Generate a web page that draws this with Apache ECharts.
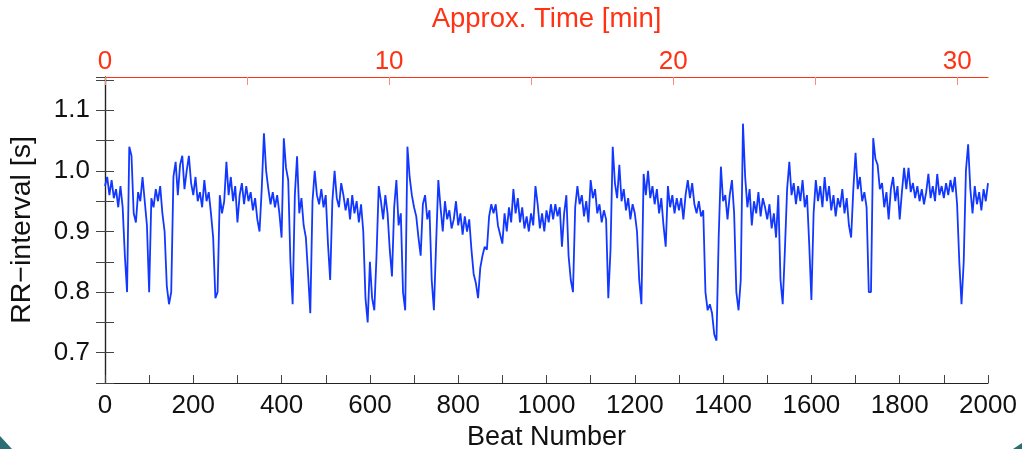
<!DOCTYPE html>
<html>
<head>
<meta charset="utf-8">
<script src="https://cdn.jsdelivr.net/npm/echarts@6/dist/echarts.min.js"></script>
<style>
html,body{margin:0;padding:0;background:#fff;}
#chart{width:1022px;height:449px;}
</style>
</head>
<body>
<div id="chart"></div>
<script>
// ---- data ----
const beatStep = 5; // one value every 5 beats, starting at beat 0
const rrBeats0to245 = [0.975,0.99,0.96,0.985,0.955,0.97,0.94,0.975,0.94,0.86,
  0.80,1.04,1.025,0.93,0.915,0.965,0.95,0.99,0.95,0.91,
  0.80,0.955,0.94,0.97,0.95,0.975,0.93,0.90,0.81,0.78,
  0.80,0.99,1.015,0.96,1.01,1.025,0.97,1.0,1.025,0.98,
  0.96,0.99,0.95,0.965,0.94,0.985,0.95,0.965,0.93,0.89];
const rrBeats250to495 = [0.79,0.80,0.96,0.93,0.95,1.015,0.96,0.99,0.95,0.975,
  0.915,0.96,0.98,0.945,0.975,0.95,0.965,0.935,0.955,0.92,
  0.90,0.97,1.062,1.0,0.97,0.945,0.965,0.94,0.96,0.93,
  0.89,1.054,1.005,0.985,0.85,0.78,0.96,1.024,0.93,0.955,
  0.91,0.89,0.83,0.765,0.95,1.0,0.96,0.945,0.97,0.94];
const rrBeats500to745 = [0.96,0.88,0.82,0.95,1.0,0.955,0.94,0.98,0.96,0.935,
  0.955,0.92,0.96,0.93,0.95,0.915,0.945,0.90,0.79,0.75,
  0.85,0.79,0.77,0.86,0.975,0.95,0.92,0.96,0.93,0.87,
  0.826,0.94,0.985,0.91,0.93,0.80,0.77,1.04,0.99,0.96,
  0.94,0.925,0.89,0.86,0.945,0.96,0.92,0.935,0.82,0.77];
const rrBeats750to995 = [0.88,0.985,0.94,0.90,0.95,0.92,0.935,0.905,0.92,0.95,
  0.91,0.93,0.895,0.925,0.90,0.92,0.87,0.83,0.815,0.79,
  0.84,0.86,0.875,0.87,0.925,0.945,0.93,0.945,0.91,0.895,
  0.88,0.93,0.90,0.94,0.915,0.97,0.93,0.955,0.915,0.94,
  0.905,0.925,0.90,0.93,0.91,0.975,0.945,0.905,0.93,0.90];
const rrBeats1000to1245 = [0.935,0.915,0.945,0.92,0.945,0.925,0.94,0.875,0.93,0.96,
  0.86,0.82,0.80,0.94,0.975,0.945,0.96,0.925,0.95,0.915,
  0.985,0.955,0.97,0.93,0.945,0.915,0.935,0.92,0.79,0.87,
  1.04,0.98,0.955,1.01,0.95,0.97,0.935,0.955,0.92,0.945,
  0.93,0.90,0.82,0.78,0.995,0.96,1.0,0.955,0.975,0.945];
const rrBeats1250to1495 = [0.97,0.93,0.955,0.91,0.875,0.975,0.94,0.96,0.93,0.955,
  0.935,0.955,0.92,0.96,0.985,0.955,0.98,0.945,0.93,0.95,
  0.925,0.935,0.80,0.77,0.78,0.765,0.73,0.72,0.89,1.007,
  0.95,0.96,0.92,0.96,0.985,0.93,0.80,0.77,0.82,1.078,
  0.99,0.94,0.97,0.91,0.95,0.93,0.965,0.925,0.955,0.94];
const rrBeats1500to1745 = [0.92,0.945,0.905,0.93,0.89,0.96,0.82,0.78,0.87,0.97,
  1.015,0.96,0.98,0.945,0.975,0.95,0.985,0.94,0.96,0.88,
  0.787,0.93,0.985,0.95,0.975,0.94,0.99,0.95,0.975,0.935,
  0.96,0.925,0.955,0.94,0.97,0.93,0.955,0.91,0.89,0.97,
  1.03,0.97,0.99,0.95,0.965,0.94,0.80,0.80,1.054,1.02];
const rrBeats1750to2000 = [1.01,0.97,0.98,0.94,0.965,0.92,0.97,0.99,0.95,0.975,
  0.92,0.965,1.005,0.97,1.005,0.965,0.98,0.955,0.975,0.95,
  0.97,0.945,0.965,0.995,0.955,0.975,0.95,0.995,0.96,0.975,
  0.955,0.98,0.96,0.985,0.965,0.99,0.945,0.85,0.78,0.85,
  1.0,1.044,0.97,0.93,0.975,0.945,0.965,0.935,0.97,0.95,
  0.98];
const rrValues = [].concat(rrBeats0to245, rrBeats250to495, rrBeats500to745, rrBeats750to995,
  rrBeats1000to1245, rrBeats1250to1495, rrBeats1500to1745, rrBeats1750to2000);

const beatTickLabels = [0,200,400,600,800,1000,1200,1400,1600,1800,2000];
const rrTickLabels = [0.7,0.8,0.9,1.0,1.1];
const timeTickLabels = [0,10,20,30];
const beatMax = 2000;
const timeMax = 31.08; // minutes spanned by the 2000 beats (top axis)

// ---- chart ----
const seriesData = rrValues.map((v, i) => [i * beatStep, v]);
const FONT = 'Liberation Sans, Arial, sans-serif';
const RED = '#ff3214';

const chart = echarts.init(document.getElementById('chart'), null, {renderer: 'canvas'});
chart.setOption({
  animation: false,
  backgroundColor: '#ffffff',
  grid: {left: 105, right: 34, top: 77, bottom: 66, containLabel: false, outerBoundsMode: 'none'},
  xAxis: [{
    type: 'value', position: 'bottom', min: 0, max: beatMax, interval: 100,
    name: 'Beat Number', nameLocation: 'middle', nameGap: 34,
    nameTextStyle: {fontFamily: FONT, fontSize: 27, color: '#111'},
    axisLine: {show: true, lineStyle: {color: '#222', width: 1.2}},
    axisTick: {show: true, inside: true, length: 8, lineStyle: {color: '#444'}},
    axisLabel: {fontFamily: FONT, fontSize: 26, color: '#111', margin: 10,
      formatter: v => beatTickLabels.indexOf(Math.round(v)) >= 0 ? String(Math.round(v)) : ''},
    splitLine: {show: false}
  }, {
    type: 'value', position: 'top', min: 0, max: timeMax, interval: 5,
    name: 'Approx. Time [min]', nameLocation: 'middle', nameGap: 44,
    nameTextStyle: {fontFamily: FONT, fontSize: 27.5, color: RED},
    axisLine: {show: true, lineStyle: {color: RED, width: 1.2}},
    axisTick: {show: true, inside: true, length: 8, lineStyle: {color: '#ff8a78'}},
    axisLabel: {fontFamily: FONT, fontSize: 26, color: RED, margin: 2, showMaxLabel: false,
      formatter: v => timeTickLabels.indexOf(Math.round(v)) >= 0 && Math.abs(v - Math.round(v)) < 1e-6 ? String(Math.round(v)) : ''},
    splitLine: {show: false}
  }],
  yAxis: [{
    type: 'value', position: 'left', min: 0.65, max: 1.155, interval: 0.05,
    name: 'RR\u2212interval [s]', nameLocation: 'middle', nameGap: 68,
    nameTextStyle: {fontFamily: FONT, fontSize: 28.5, color: '#111'},
    axisLine: {show: true, lineStyle: {color: '#222', width: 1.2}},
    axisTick: {show: true, inside: true, length: 9, lineStyle: {color: '#444'}},
    axisLabel: {fontFamily: FONT, fontSize: 26, color: '#111', margin: 15, showMaxLabel: false,
      formatter: v => {
        const m = rrTickLabels.find(t => Math.abs(t - v) < 1e-6);
        return m === undefined ? '' : m.toFixed(1);
      }},
    splitLine: {show: false}
  }, {
    type: 'value', position: 'right', min: 0.65, max: 1.155, interval: 0.05,
    axisLine: {show: true, lineStyle: {color: '#222', width: 1.2}},
    axisTick: {show: true, inside: true, length: 9, lineStyle: {color: '#444'}},
    axisLabel: {show: false},
    splitLine: {show: false}
  }],
  series: [{
    type: 'line', xAxisIndex: 0, yAxisIndex: 0,
    data: seriesData, showSymbol: false, symbol: 'none',
    lineStyle: {color: '#1238ff', width: 1.8},
    silent: true
  }],
  graphic: [
    {type: 'polygon', shape: {points: [[0,436],[12,449],[0,449]]}, style: {fill: '#2b6f74'}, silent: true},
    {type: 'polygon', shape: {points: [[1013,449],[1022,443],[1022,449]]}, style: {fill: '#2b6f74'}, silent: true}
  ]
});
</script>
</body>
</html>
